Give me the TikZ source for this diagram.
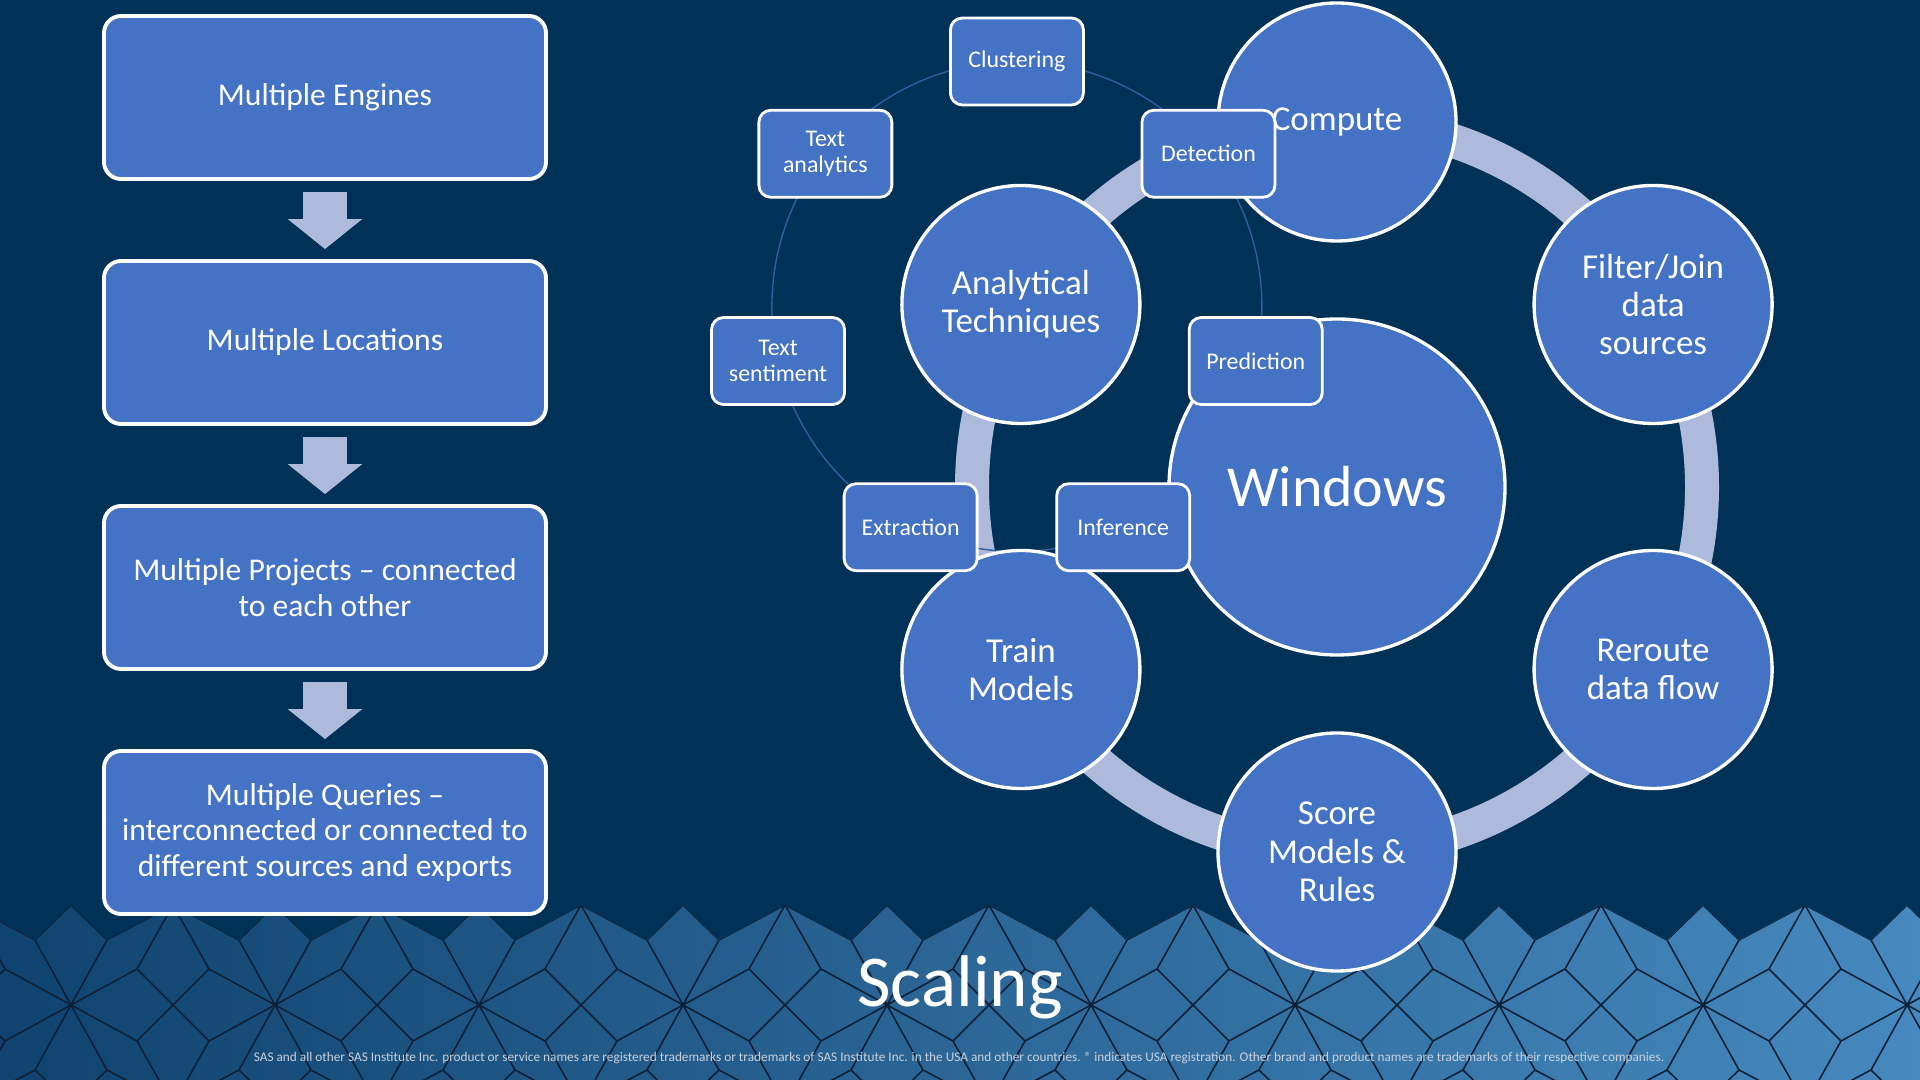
\documentclass[tikz,border=0pt]{standalone}
\usepackage{fontspec}
\setmainfont{Carlito}
\usepackage{xcolor}
\usetikzlibrary{arrows.meta,calc,shapes}
\definecolor{bgblue}{RGB}{0,49,87}
\definecolor{boxblue}{RGB}{68,114,196}
\definecolor{arrowgray}{RGB}{174,186,219}
\definecolor{bandleft}{RGB}{16,67,111}
\definecolor{bandright}{RGB}{70,137,190}
\definecolor{patline}{RGB}{13,32,55}
\definecolor{thinblue}{RGB}{50,94,160}
\definecolor{footgray}{RGB}{200,210,222}

\begin{document}
\begin{tikzpicture}[x=1cm, y=1cm,
lbox/.style={rectangle, rounded corners=1.7mm, draw=white, line width=1.1pt, fill=boxblue, minimum width=4.42cm, minimum height=1.63cm, text=white, align=center, font=\fontsize{9}{10.1}\selectfont},
bubble/.style={circle, draw=white, line width=0.95pt, fill=boxblue, minimum size=2.38cm, inner sep=0pt, text=white, align=center, font=\fontsize{9.95}{10.9}\selectfont},
tbox/.style={rectangle, rounded corners=1.2mm, draw=white, line width=0.8pt, fill=boxblue, minimum width=1.33cm, minimum height=0.87cm, inner sep=0pt, text=white, align=center, font=\fontsize{6.8}{7.6}\selectfont},
down/.style={color=arrowgray, line width=4.4mm, -{Triangle[width=7.3mm, length=3mm]}, shorten <=1.1mm, shorten >=1mm},
ring/.style={draw=arrowgray, line width=3.4mm},
thinring/.style={draw=thinblue, line width=0.4pt},
patt/.style={draw=patline, line width=0.45pt, line join=round}]
\useasboundingbox (0,0) rectangle (19.2,10.8);
\fill[bgblue] (0,0) rectangle (19.2,10.8);

% tiled band at the bottom
\begin{scope}
\clip (-2,0) \foreach \k [evaluate=\k as \xs using 0.71+2.04*\k] in {-1,...,9} { -- (\xs-0.36,1.40) -- (\xs,1.75) -- (\xs+0.36,1.40) -- (\xs+1.02,1.75) } -- (21,1.40) -- (21,0) -- cycle;
\shade[left color=bandleft, right color=bandright] (0,0) rectangle (19.2,1.8);
\foreach \k [evaluate=\k as \xs using 0.71+2.04*\k] in {-1,...,9}
  \foreach \s in {1,-1}
    \draw[patt, shift={(\xs,0.75)}, yscale=\s] (-0.36,0.65) -- (0,1) -- (0.36,0.65) -- (1.02,1) -- (1.68,0.65)
      (-0.36,0.65) -- (0,0) -- (0.36,0.65)
      (0,0) -- (0.66,0.36) -- (1.02,1) -- (1.38,0.36) -- (2.04,0)
      (0.66,0.36) -- (1.02,0) -- (1.38,0.36);
\end{scope}

\coordinate (o) at (13.37,5.93);
\coordinate (ac) at ($(o)+(150:3.65)$);
\coordinate (tc) at ($(ac)+(-0.04,-0.02)$);
\draw[ring] (o) circle (3.65);
\draw[thinring] (tc) circle (2.45);

\node[bubble] (1) at ($(o)+(90:3.65)$) {Compute};
\node[bubble] (2) at ($(o)+(30:3.65)$) {Filter/Join\\data\\sources};
\node[bubble] (3) at ($(o)+(-30:3.65)$) {Reroute\\data flow};
\node[bubble] (4) at ($(o)+(-90:3.65)$) {Score\\Models \&\\Rules};
\node[bubble] (5) at ($(o)+(-150:3.65)$) {Train\\Models};
\node[bubble] (6) at (ac) {Analytical\\Techniques};
\node[bubble, minimum size=3.36cm, font=\fontsize{16.5}{18}\selectfont] (7) at (o) {Windows};

\node[tbox] (t1) at ($(tc)+(90:2.45)$) {Clustering};
\node[tbox] (t2) at ($(tc)+(38.57:2.45)$) {Detection};
\node[tbox] (t3) at ($(tc)+(-12.86:2.45)$) {Prediction};
\node[tbox] (t4) at ($(tc)+(-64.29:2.45)$) {Inference};
\node[tbox] (t5) at ($(tc)+(-115.71:2.45)$) {Extraction};
\node[tbox] (t6) at ($(tc)+(-167.14:2.45)$) {Text\\sentiment};
\node[tbox] (t7) at ($(tc)+(141.43:2.45)$) {Text\\analytics};

\node[lbox] (b1) at (3.25,9.825) {Multiple Engines};
\node[lbox] (b2) at (3.25,7.375) {Multiple Locations};
\node[lbox] (b3) at (3.25,4.925) {Multiple Projects -- connected\\to each other};
\node[lbox] (b4) at (3.25,2.475) {Multiple Queries --\\interconnected or connected to\\different sources and exports};
\path[down]
(b1) edge (b2)
(b2) edge (b3)
(b3) edge (b4);

\node[text=white, anchor=base, font=\fontsize{20.8}{24}\selectfont] (title) at (9.6,0.73) {Scaling};
\node[text=footgray, anchor=base, font=\fontsize{3.78}{4.2}\selectfont] (note) at (9.59,0.18) {SAS and all other SAS Institute Inc. product or service names are registered trademarks or trademarks of SAS Institute Inc. in the USA and other countries. \textregistered{} indicates USA registration. Other brand and product names are trademarks of their respective companies.};
\end{tikzpicture}
\end{document}
